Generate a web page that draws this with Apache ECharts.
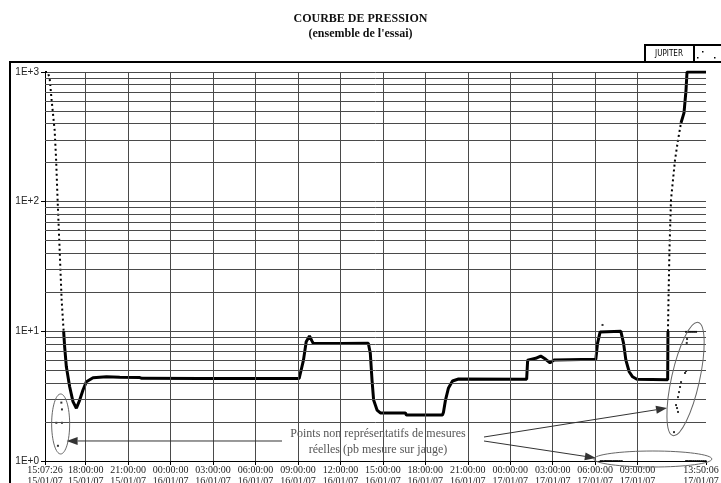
<!DOCTYPE html>
<html>
<head>
<meta charset="utf-8">
<script src="https://cdn.jsdelivr.net/npm/echarts@6/dist/echarts.min.js"></script>
<style>
  html, body { margin: 0; padding: 0; background: #fff; }
  #chart { width: 721px; height: 483px; }
</style>
</head>
<body>
<div id="chart"></div>
<script>
// Time is counted in hours from 15/01/07 00:00, pressure on a log scale.

// x axis ticks (start and end of the test, then every 3 hours)
const tickHours = [15.1239, 18, 21, 24, 27, 30, 33, 36, 39, 42, 45, 48, 51, 54, 57, 61.835];
const tickLabels = [
  '15:07:26\n15/01/07', '18:00:00\n15/01/07', '21:00:00\n15/01/07',
  '00:00:00\n16/01/07', '03:00:00\n16/01/07', '06:00:00\n16/01/07',
  '09:00:00\n16/01/07', '12:00:00\n16/01/07', '15:00:00\n16/01/07',
  '18:00:00\n16/01/07', '21:00:00\n16/01/07', '00:00:00\n17/01/07',
  '03:00:00\n17/01/07', '06:00:00\n17/01/07', '09:00:00\n17/01/07',
  '13:50:06\n17/01/07'
];

// y axis decades and their labels
const decadeValues = [1, 10, 100, 1000];
const decadeLabels = ['1E+0', '1E+1', '1E+2', '1E+3'];
// intermediate horizontal grid values
const minorGridValues = [2, 3, 4, 5, 6, 7, 8, 9, 20, 30, 40, 50, 60, 70, 80, 90,
  200, 300, 400, 500, 600, 700, 800, 900];

// pump-down from atmosphere (sparse points)
const pumpDownH = [15.1239, 15.309, 15.450, 15.592, 15.805, 15.911, 16.017, 16.159, 16.300, 16.442];
const pumpDownP = [1000, 1000, 900, 607, 356, 209, 101, 42.4, 17.4, 10];

// test phase (dense measurements)
const testH = [16.442, 16.513, 16.633, 16.867, 17.101, 17.341, 17.575, 17.809, 18.050,
  18.517, 19.466, 20.408, 21.824, 21.966, 26.074, 30.323, 33.085,
  33.205, 33.389, 33.581, 33.814, 33.985, 34.076, 35.989, 37.972,
  38.113, 38.234, 38.347, 38.588, 38.822, 40.592, 40.663, 43.212,
  43.283, 43.425, 43.637, 43.921, 44.346, 49.161,
  49.232, 49.445, 49.799, 50.153, 50.507, 50.812, 51.096, 54.049,
  54.169, 54.353, 55.819, 56.010, 56.173, 56.407, 56.648, 56.952, 59.126, 59.147];
const testP = [10, 7.6, 5.33, 3.74, 2.87, 2.55, 2.95, 3.53, 4.09,
  4.39, 4.46, 4.42, 4.40, 4.34, 4.33, 4.33, 4.33,
  4.34, 6.0, 8.32, 9.2, 8.44, 8.1, 8.05, 8.1,
  6.77, 4.21, 2.95, 2.47, 2.35, 2.35, 2.26, 2.26,
  2.38, 2.95, 3.66, 4.14, 4.29, 4.27,
  6.0, 6.08, 6.19, 6.45, 6.08, 5.72, 6.0, 6.08,
  8.08, 9.9, 10.0, 8.08, 6.0, 4.88, 4.46, 4.27, 4.23, 10];

// venting back to atmosphere
const ventH = [59.147, 59.183, 59.253, 59.360, 59.643, 59.855, 60.068];
const ventP = [10, 17.4, 42.4, 103, 209, 298, 405];
const atmosphereH = [60.068, 60.280, 60.422, 60.493, 61.835];
const atmosphereP = [405, 484, 722, 1000, 1000];

// isolated readings from the gauge
const strayH = [16.279, 16.322, 15.925, 16.322, 16.038,
  54.522,
  60.425, 60.567, 60.708, 60.850, 60.992, 61.133,
  60.496, 60.474, 60.425, 60.354, 60.071, 60.000, 59.929, 59.858,
  59.717, 59.788, 59.858, 59.575,
  54.40, 54.52, 54.66, 54.77, 54.91, 55.05, 55.18, 55.33, 55.47, 55.60, 55.74, 55.88,
  60.43, 60.55, 60.70, 60.82, 60.96, 61.10, 61.24, 61.37, 61.52, 61.66, 61.80];
const strayP = [2.82, 2.50, 1.97, 1.97, 1.31,
  11.2,
  9.9, 9.9, 9.9, 9.9, 9.9, 9.9,
  8.72, 8.14, 4.94, 4.77, 4.06, 3.72, 3.40, 3.11,
  2.70, 2.56, 2.39, 1.67,
  1, 1, 1, 1, 1, 1, 1, 1, 1, 1, 1, 1,
  1, 1, 1, 1, 1, 1, 1, 1, 1, 1, 1];

const zip = (h, p) => h.map((v, i) => [v, p[i]]);

const chart = echarts.init(document.getElementById('chart'), null, { renderer: 'canvas' });

const gridLine = { color: '#4a4a4a', width: 1, type: 'solid' };
const xLabelFont = { fontFamily: 'Liberation Serif', fontSize: 10, lineHeight: 11, color: '#222' };
const lastTick = tickHours.length - 1;

chart.setOption({
  animation: false,
  backgroundColor: '#fff',
  title: {
    text: 'COURBE DE PRESSION',
    subtext: "(ensemble de l'essai)",
    left: 'center',
    top: 8,
    itemGap: 3,
    textStyle: { fontFamily: 'Liberation Serif', fontWeight: 'bold', fontSize: 12, color: '#111' },
    subtextStyle: { fontFamily: 'Liberation Serif', fontWeight: 'bold', fontSize: 12, color: '#111' }
  },
  grid: { left: 45, right: 15, top: 72, bottom: 22, containLabel: false, outerBoundsMode: 'none' },
  xAxis: {
    type: 'value',
    min: tickHours[0],
    max: tickHours[lastTick],
    axisLine: { show: true, lineStyle: { color: '#000', width: 1 } },
    axisTick: { show: true, customValues: tickHours, length: 4, lineStyle: { color: '#000' } },
    axisLabel: Object.assign({
      // the closing time stamp is placed separately so it stays inside the frame
      customValues: tickHours.slice(0, lastTick),
      margin: 4,
      formatter: v => {
        let best = 0;
        tickHours.forEach((t, i) => { if (Math.abs(t - v) < Math.abs(tickHours[best] - v)) best = i; });
        return tickLabels[best];
      }
    }, xLabelFont),
    splitLine: { show: false }
  },
  yAxis: {
    type: 'log',
    logBase: 10,
    min: 1,
    max: 1000,
    axisLine: { show: true, lineStyle: { color: '#000', width: 1 } },
    axisTick: { show: true, length: 4, lineStyle: { color: '#000' } },
    axisLabel: {
      margin: 6,
      fontFamily: 'Liberation Sans',
      fontSize: 10,
      color: '#222',
      formatter: v => {
        const i = decadeValues.findIndex(d => Math.abs(d - v) / d < 1e-6);
        return i >= 0 ? decadeLabels[i] : '';
      }
    },
    splitLine: { show: true, lineStyle: gridLine },
    minorTick: { show: false },
    minorSplitLine: { show: false }
  },
  series: [
    {
      // background grid drawn under the measurements
      type: 'line',
      data: [],
      z: 1,
      silent: true,
      markLine: {
        silent: true,
        symbol: ['none', 'none'],
        label: { show: false },
        lineStyle: gridLine,
        animation: false,
        data: minorGridValues.map(v => ({ yAxis: v })).concat(tickHours.map(h => ({ xAxis: h })))
      }
    },
    {
      name: 'pompage',
      type: 'line',
      z: 3,
      data: zip(pumpDownH, pumpDownP),
      showSymbol: false,
      lineStyle: { color: '#000', width: 2, type: [2, 3] }
    },
    {
      name: 'essai',
      type: 'line',
      z: 3,
      data: zip(testH, testP),
      showSymbol: false,
      lineStyle: { color: '#000', width: 3 }
    },
    {
      name: 'remise à l\'air',
      type: 'line',
      z: 3,
      data: zip(ventH, ventP),
      showSymbol: false,
      lineStyle: { color: '#000', width: 2, type: [2, 3] }
    },
    {
      name: 'atmosphère',
      type: 'line',
      z: 3,
      data: zip(atmosphereH, atmosphereP),
      showSymbol: false,
      lineStyle: { color: '#000', width: 3 }
    },
    {
      name: 'points isolés',
      type: 'scatter',
      z: 4,
      clip: false,
      data: zip(strayH, strayP),
      symbol: 'rect',
      symbolSize: [2, 2],
      itemStyle: { color: '#000' }
    }
  ]
});

// Annotation: ellipses around the stray readings and arrows from the note
const px = (h, p) => chart.convertToPixel({ gridIndex: 0 }, [h, p]);

function arrow(from, to, color) {
  const dx = to[0] - from[0], dy = to[1] - from[1];
  const len = Math.hypot(dx, dy), ux = dx / len, uy = dy / len;
  const hl = 11, hw = 4;
  const bx = to[0] - ux * hl, by = to[1] - uy * hl;
  return [
    { type: 'line', shape: { x1: from[0], y1: from[1], x2: bx, y2: by },
      style: { stroke: color, lineWidth: 1 }, z: 10 },
    { type: 'polygon', shape: { points: [to, [bx - uy * hw, by + ux * hw], [bx + uy * hw, by - ux * hw]] },
      style: { fill: color }, z: 10 }
  ];
}

const leftC = px(16.23, 1.93);
const rightC = px(60.39, 4.29);
const bottomC = px(58.08, 1.036);
const endTick = px(tickHours[lastTick], 1);
const noteColor = '#555';

const graphics = [
  // outer frame
  { type: 'rect', shape: { x: 10, y: 62, width: 720, height: 440 },
    style: { fill: null, stroke: '#000', lineWidth: 2 }, z: 20 },
  // station tag
  { type: 'rect', shape: { x: 645, y: 45, width: 80, height: 17 },
    style: { fill: '#fff', stroke: '#000', lineWidth: 2 }, z: 20 },
  { type: 'line', shape: { x1: 694, y1: 45, x2: 694, y2: 62 },
    style: { stroke: '#000', lineWidth: 2 }, z: 21 },
  { type: 'text', x: 669, y: 54, z: 21,
    style: { text: 'JUPITER', fontFamily: 'DejaVu Sans Condensed', fontSize: 8, fill: '#000',
      align: 'center', verticalAlign: 'middle' } },
  { type: 'rect', shape: { x: 697, y: 57, width: 1.5, height: 1.5 }, style: { fill: '#000' }, z: 21 },
  { type: 'rect', shape: { x: 702, y: 51, width: 1.5, height: 1.5 }, style: { fill: '#000' }, z: 21 },
  { type: 'rect', shape: { x: 714, y: 57, width: 1.5, height: 1.5 }, style: { fill: '#000' }, z: 21 },
  // closing time stamp under the last tick
  { type: 'text', x: endTick[0] - 5, y: endTick[1] + 4, z: 10,
    style: { text: tickLabels[lastTick], fontFamily: xLabelFont.fontFamily, fontSize: xLabelFont.fontSize,
      lineHeight: xLabelFont.lineHeight, fill: xLabelFont.color, align: 'center', verticalAlign: 'top' } },
  // ellipses
  { type: 'ellipse', shape: { cx: leftC[0], cy: leftC[1], rx: 9, ry: 30 },
    style: { fill: null, stroke: '#666', lineWidth: 1 }, z: 10 },
  { type: 'ellipse', x: rightC[0], y: rightC[1], rotation: -0.22,
    shape: { cx: 0, cy: 0, rx: 14, ry: 58 },
    style: { fill: null, stroke: '#666', lineWidth: 1 }, z: 10 },
  { type: 'ellipse', shape: { cx: bottomC[0], cy: bottomC[1], rx: 59, ry: 8 },
    style: { fill: null, stroke: '#666', lineWidth: 1 }, z: 10 },
  // note
  { type: 'text', x: 378, y: 434, z: 10,
    style: { text: 'Points non représentatifs de mesures', fontFamily: 'Liberation Serif',
      fontSize: 12, fill: noteColor, align: 'center', verticalAlign: 'middle' } },
  { type: 'text', x: 378, y: 450, z: 10,
    style: { text: 'réelles (pb mesure sur jauge)', fontFamily: 'Liberation Serif',
      fontSize: 12, fill: noteColor, align: 'center', verticalAlign: 'middle' } }
];

graphics.push(...arrow([282, 441], px(16.654, 1.427), '#333'));
graphics.push(...arrow([484, 437], px(59.08, 2.56), '#333'));
graphics.push(...arrow([484, 441], px(54.05, 1.055), '#333'));

chart.setOption({ graphic: graphics });
</script>
</body>
</html>
